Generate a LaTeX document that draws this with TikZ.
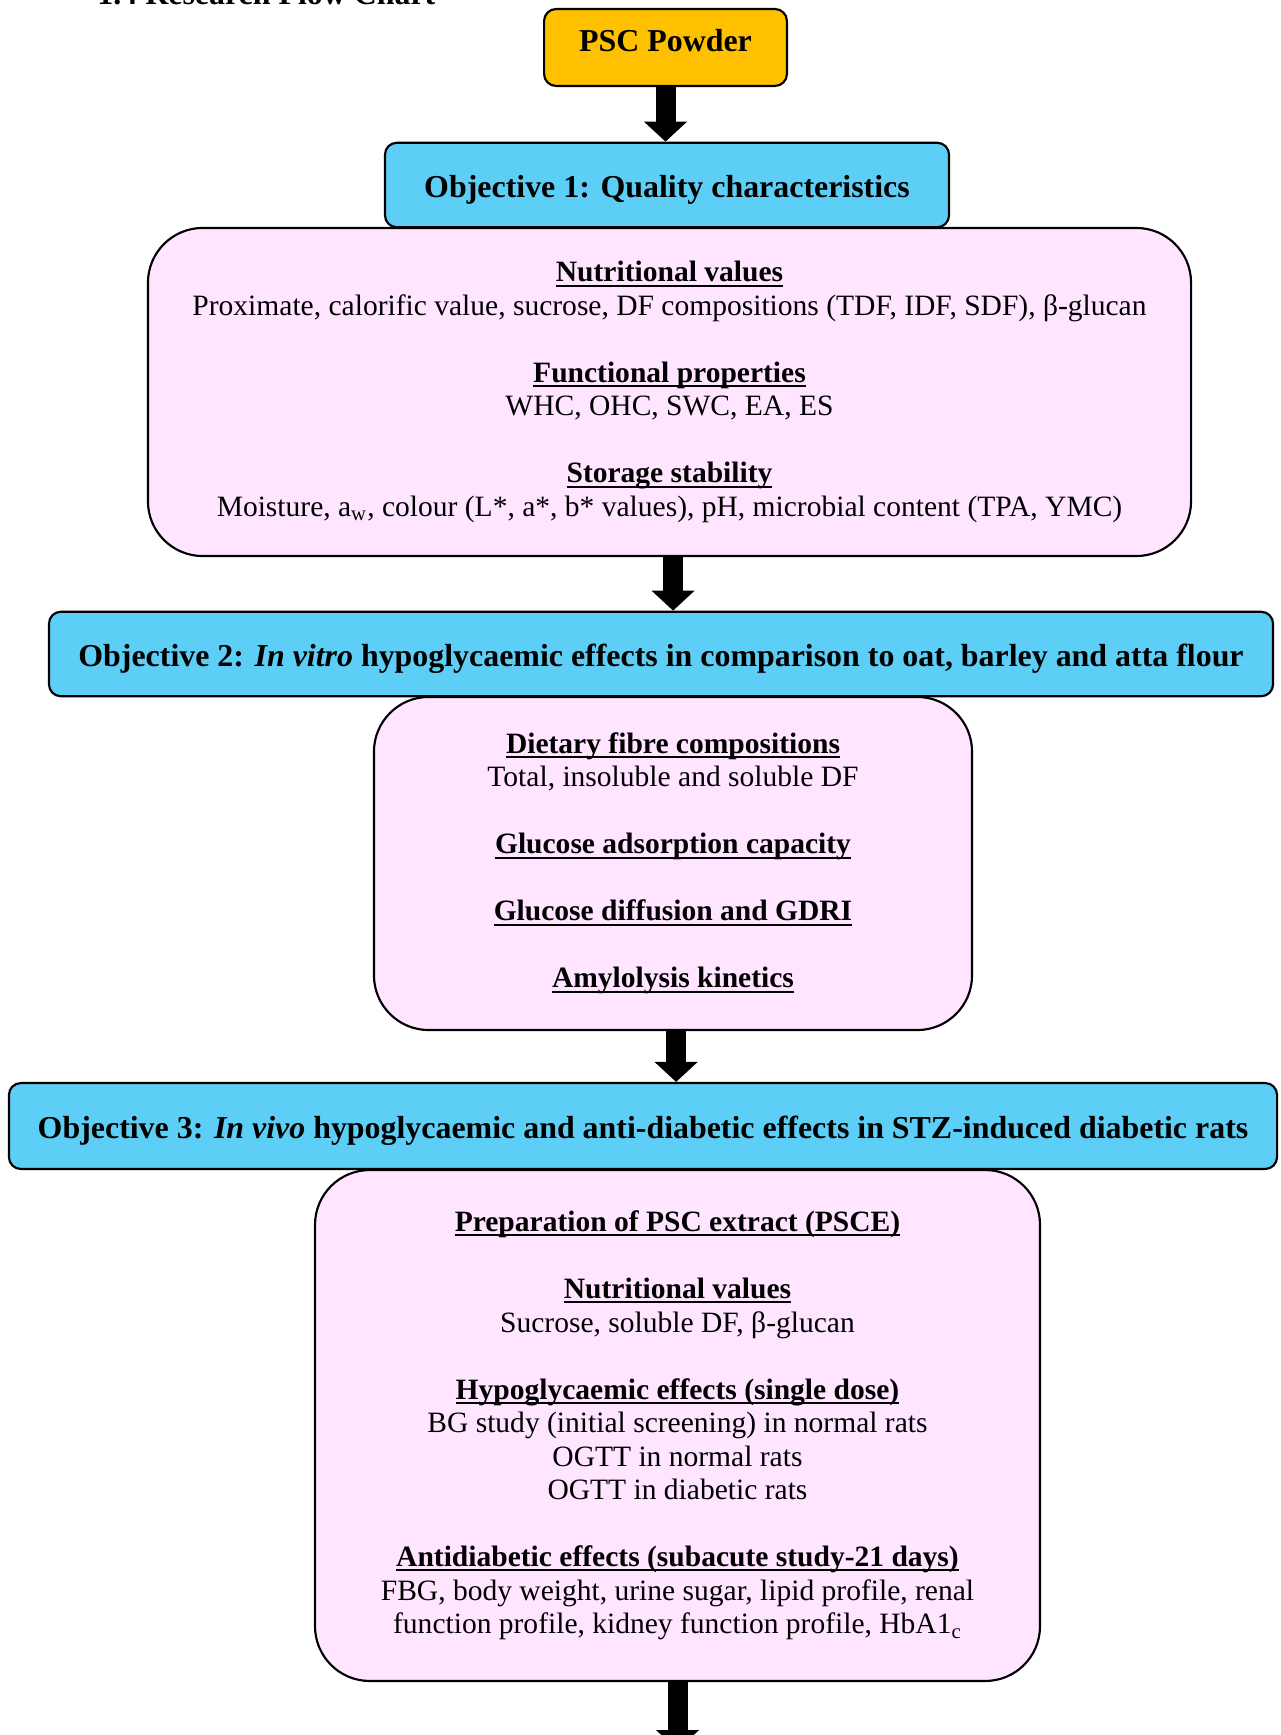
\documentclass[tikz,border=0pt]{standalone}
\usepackage{fontspec}
\setmainfont{Liberation Serif}
\usetikzlibrary{arrows.meta, positioning, calc}
\definecolor{pscgold}{HTML}{FFC000}
\definecolor{objblue}{HTML}{5DCEF5}
\definecolor{workpink}{HTML}{FFE5FF}
\newlength{\headwd}
\newcommand{\headtext}[1]{\settowidth{\headwd}{\textbf{#1}}\textbf{#1}\llap{\rule[-2pt]{\headwd}{0.85pt}}}

\begin{document}
\begin{tikzpicture}[
    x=0.42pt, y=-0.42pt,
    every node/.style={font=\fontsize{12.4}{14.07}\selectfont},
    startbox/.style={rectangle, rounded corners=5pt, draw=black, line width=0.9pt, fill=pscgold, minimum width=102pt, minimum height=32.3pt, text height=9.2pt, text depth=5.7pt, font=\fontsize{13.4}{14.07}\selectfont\bfseries},
    objbox/.style={rectangle, rounded corners=5pt, draw=black, line width=0.9pt, fill=objblue, minimum height=35.5pt, text height=10.8pt, text depth=0pt, font=\fontsize{13.4}{14.07}\selectfont\bfseries},
    workbox/.style={rectangle, rounded corners=23pt, draw=black, line width=0.9pt, fill=workpink, align=center},
    bigarrow/.style={-{Triangle[length=8.4pt, width=17.6pt]}, line width=8.4pt, color=black}
]
\useasboundingbox (0,0) rectangle (1280,1735);

% Heading cut off at the top
\node[anchor=base west, inner sep=0pt, font=\fontsize{13.4}{14.07}\selectfont\bfseries] (title) at (97,5) {1.4 Research Flow Chart};

% Start
\node[startbox] (psc) at (665.5,47.5) {PSC Powder};

% Objective 1
\node[objbox, minimum width=236.9pt] (obj1) at (667,185) {Objective 1: Quality characteristics};
\node[workbox, minimum width=438.1pt, minimum height=137.8pt] (work1) at (669.5,392) {%
    \headtext{Nutritional values}\\
    Proximate, calorific value, sucrose, DF compositions (TDF, IDF, SDF), β-glucan\\[14.07pt]
    \headtext{Functional properties}\\
    WHC, OHC, SWC, EA, ES\\[14.07pt]
    \headtext{Storage stability}\\
    Moisture, a\textsubscript{w}, colour (L*, a*, b* values), pH, microbial content (TPA, YMC)};

% Objective 2
\node[objbox, minimum width=514.1pt] (obj2) at (661,654) {Objective 2: \textit{In vitro} hypoglycaemic effects in comparison to oat, barley and atta flour};
\node[workbox, minimum width=251.2pt, minimum height=139.9pt] (work2) at (673,863.5) {%
    \headtext{Dietary fibre compositions}\\
    Total, insoluble and soluble DF\\[14.07pt]
    \headtext{Glucose adsorption capacity}\\[14.07pt]
    \headtext{Glucose diffusion and GDRI}\\[14.07pt]
    \headtext{Amylolysis kinetics}};

% Objective 3
\node[objbox, minimum width=532.6pt, minimum height=36.1pt] (obj3) at (643,1126) {Objective 3: \textit{In vivo} hypoglycaemic and anti-diabetic effects in STZ-induced diabetic rats};
\node[workbox, minimum width=304.5pt, minimum height=214.6pt] (work3) at (677.5,1425.5) {%
    \headtext{Preparation of PSC extract (PSCE)}\\[14.07pt]
    \headtext{Nutritional values}\\
    Sucrose, soluble DF, β-glucan\\[14.07pt]
    \headtext{Hypoglycaemic effects (single dose)}\\
    BG study (initial screening) in normal rats\\
    OGTT in normal rats\\
    OGTT in diabetic rats\\[14.07pt]
    \headtext{Antidiabetic effects (subacute study-21 days)}\\
    FBG, body weight, urine sugar, lipid profile, renal\\
    function profile, kidney function profile, HbA1\textsubscript{c}};
\coordinate (next) at (678,1750);

% Arrows between the stages
\draw[bigarrow] (psc.south) -- (psc.south |- obj1.north);
\draw[bigarrow] ([xshift=1.5pt]work1.south) -- ([xshift=1.5pt]work1.south |- obj2.north);
\draw[bigarrow] ([xshift=1.3pt]work2.south) -- ([xshift=1.3pt]work2.south |- obj3.north);
\draw[bigarrow] (work3.south) -- (work3.south |- next);

\end{tikzpicture}
\end{document}
